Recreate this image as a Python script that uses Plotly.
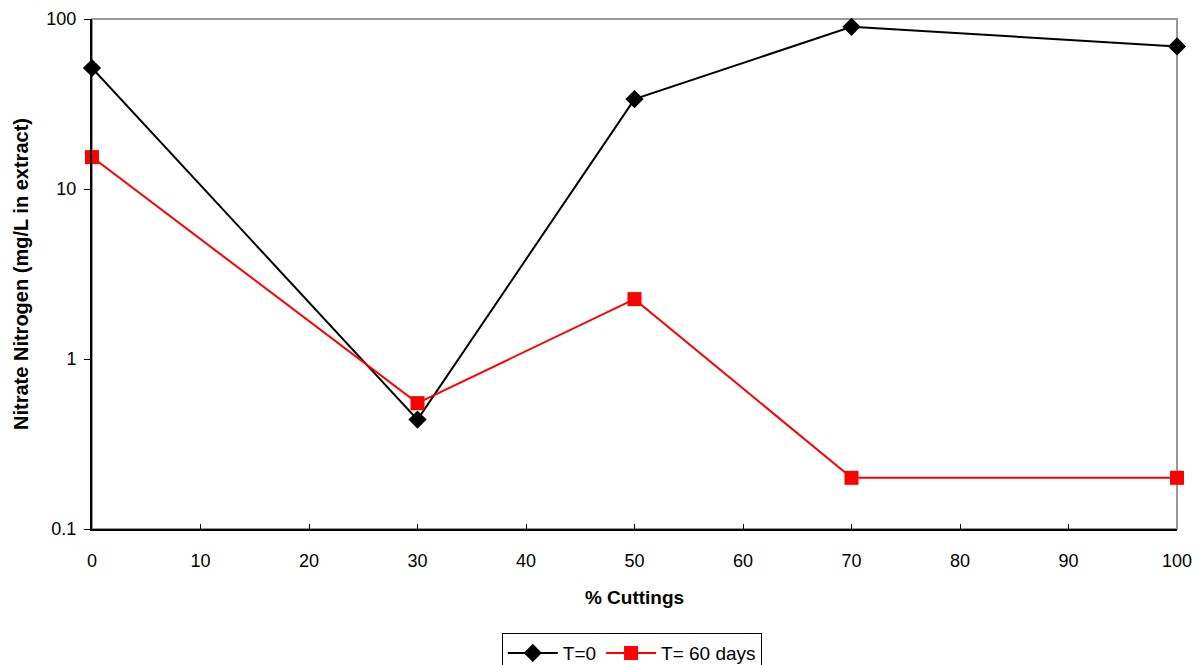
import plotly.graph_objects as go

# Nitrate nitrogen in extract vs. percentage of cuttings
cuttings = [0, 30, 50, 70, 100]
nitrate_t0 = [51.5, 0.44, 33.8, 90, 69]
nitrate_t60 = [15.4, 0.55, 2.25, 0.2, 0.2]

fig = go.Figure()
fig.add_trace(go.Scatter(
    x=cuttings, y=nitrate_t0, name="T=0", mode="lines+markers",
    line=dict(color="black", width=2),
    marker=dict(symbol="diamond", size=14, color="black"),
    cliponaxis=False,
))
fig.add_trace(go.Scatter(
    x=cuttings, y=nitrate_t60, name="T= 60 days", mode="lines+markers",
    line=dict(color="#ff0000", width=2),
    marker=dict(symbol="square", size=14, color="#ff0000"),
    cliponaxis=False,
))

font = dict(family="Liberation Sans, Arial, sans-serif", size=18, color="black")

fig.update_layout(
    width=1199, height=665,
    margin=dict(l=92, r=22, t=19, b=136, autoexpand=False),
    paper_bgcolor="white", plot_bgcolor="white",
    font=font,
    showlegend=True,
    legend=dict(
        orientation="h", x=0.4975, xanchor="center", y=-0.204, yanchor="top",
        bordercolor="black", borderwidth=1, font=dict(size=19),
        itemwidth=50, tracegroupgap=0,
    ),
    shapes=[dict(type="rect", xref="paper", yref="paper", x0=0, x1=1, y0=0, y1=1,
                 line=dict(color="#999999", width=2), layer="below")],
)
fig.update_xaxes(
    range=[0, 100], dtick=10, tick0=0,
    showgrid=False, zeroline=False, automargin=False,
    showline=True, linecolor="black", linewidth=2,
    ticks="inside", ticklen=5, tickcolor="black",
    ticklabelstandoff=14,
    title=dict(text="<b>% Cuttings</b>", font=dict(size=19), standoff=21),
    tickfont=dict(size=18),
)
fig.update_yaxes(
    type="log", range=[-1, 2],
    tickvals=[0.1, 1, 10, 100], ticktext=["0.1", "1", "10", "100"],
    showgrid=False, zeroline=False, automargin=False,
    showline=True, linecolor="black", linewidth=2,
    ticks="outside", ticklen=6, tickcolor="black",
    ticklabelstandoff=4,
    title=dict(text="<b>Nitrate Nitrogen (mg/L in extract)</b>", font=dict(size=20), standoff=12),
    tickfont=dict(size=18),
)

fig.write_html("out.html")
